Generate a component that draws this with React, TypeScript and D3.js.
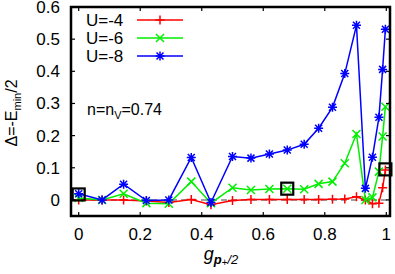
import React from "react";
import * as d3 from "d3";

const gValues = [0, 0.076, 0.146, 0.22, 0.293, 0.366, 0.43, 0.5, 0.56, 0.62, 0.678, 0.733, 0.78, 0.825, 0.865, 0.903, 0.932, 0.955, 0.976, 0.988, 0.997];
const deltaU4 = [0, 0, 0, -0.003, -0.008, 0.001, -0.015, -0.002, 0.001, 0.001, 0.001, 0.001, 0.001, 0.002, 0.003, 0.01, 0, -0.012, -0.01, 0.038, 0.093];
const deltaU6 = [0.006, 0, 0.019, -0.01, -0.012, 0.057, -0.01, 0.038, 0.031, 0.034, 0.035, 0.033, 0.05, 0.057, 0.114, 0.205, 0, 0.008, 0.088, 0.197, 0.29];
const deltaU8 = [0.019, 0, 0.049, -0.002, 0, 0.132, -0.008, 0.135, 0.13, 0.143, 0.155, 0.173, 0.223, 0.288, 0.393, 0.543, 0.036, 0.133, 0.257, 0.406, 0.531];
const seriesLabels = ["U=-4", "U=-6", "U=-8"];
const squareX = [0, 0.678, 0.997];
const squareY = [0.017, 0.035, 0.095];
const xTicks = [0, 0.2, 0.4, 0.6, 0.8, 1];
const xTickLabels = ["0", "0.2", "0.4", "0.6", "0.8", "1"];
const yTicks = [0, 0.1, 0.2, 0.3, 0.4, 0.5, 0.6];
const yTickLabels = ["0", "0.1", "0.2", "0.3", "0.4", "0.5", "0.6"];

const W = 395, H = 274;
const L = 71, R = 390, T = 7, B = 216;
const FONT = "'Liberation Sans', Arial, Helvetica, sans-serif";

const markerPaths: Record<string, string> = {
  plus: "M-4.5,0H4.5M0,-4.5V4.5",
  cross: "M-4,-4L4,4M-4,4L4,-4",
  star: "M-4.5,0H4.5M0,-4.5V4.5M-3.5,-3.5L3.5,3.5M-3.5,3.5L3.5,-3.5",
};

export default function App() {
  const x = d3.scaleLinear().domain([-0.025, 1.012]).range([L, R]);
  const y = d3.scaleLinear().domain([-0.05, 0.6]).range([B, T]);
  const series = [
    { label: seriesLabels[0], values: deltaU4, color: "#ff0000", marker: "plus" },
    { label: seriesLabels[1], values: deltaU6, color: "#00ee00", marker: "cross" },
    { label: seriesLabels[2], values: deltaU8, color: "#0000ff", marker: "star" },
  ];
  const line = d3.line<[number, number]>().x((d) => x(d[0])).y((d) => y(d[1]));

  return (
    <svg width={W} height={H} style={{ position: "absolute", left: 0, top: 0, background: "#fff" }} fontFamily={FONT}>
      <line x1={L} x2={R} y1={y(0)} y2={y(0)} stroke="#a0a0a0" strokeWidth={2} strokeDasharray="6,4" />
      {series.map((s, i) => {
        const pts: [number, number][] = gValues.map((g, j) => [g, s.values[j]]);
        return (
          <g key={i}>
            <path d={line(pts) || ""} fill="none" stroke={s.color} strokeWidth={1.5} />
            {pts.map((p, j) => (
              <path key={j} d={markerPaths[s.marker]} transform={`translate(${x(p[0])},${y(p[1])})`} stroke={s.color} strokeWidth={1.5} fill="none" />
            ))}
          </g>
        );
      })}
      {squareX.map((sx, i) => (
        <rect key={i} x={x(sx) - 6} y={y(squareY[i]) - 6} width={12} height={12} fill="none" stroke="#000" strokeWidth={2.2} />
      ))}
      <rect x={L} y={T} width={R - L} height={B - T} fill="none" stroke="#000" strokeWidth={2.5} />
      {xTicks.map((t, i) => (
        <g key={"xt" + i}>
          <line x1={x(t)} x2={x(t)} y1={B} y2={B - 4} stroke="#000" strokeWidth={1.2} />
          <line x1={x(t)} x2={x(t)} y1={T} y2={T + 4} stroke="#000" strokeWidth={1.2} />
          <text x={x(t)} y={240} fontSize={17} textAnchor="middle">{xTickLabels[i]}</text>
        </g>
      ))}
      {yTicks.map((t, i) => (
        <g key={"yt" + i}>
          <line x1={L} x2={L + 4} y1={y(t)} y2={y(t)} stroke="#000" strokeWidth={1.2} />
          <line x1={R} x2={R - 4} y1={y(t)} y2={y(t)} stroke="#000" strokeWidth={1.2} />
          <text x={60} y={y(t) + 6} fontSize={17} textAnchor="end">{yTickLabels[i]}</text>
        </g>
      ))}
      {series.map((s, i) => (
        <g key={"lg" + i}>
          <text x={86} y={26 + i * 18} fontSize={17}>{s.label}</text>
          <line x1={137} x2={183} y1={20 + i * 18} y2={20 + i * 18} stroke={s.color} strokeWidth={1.5} />
          <path d={markerPaths[s.marker]} transform={`translate(160,${20 + i * 18})`} stroke={s.color} strokeWidth={1.5} fill="none" />
        </g>
      ))}
      <text x={87} y={115} fontSize={16}>
        n=n<tspan fontSize={11} dy={4}>V</tspan><tspan dy={-4}>=0.74</tspan>
      </text>
      <text transform="translate(17,113) rotate(-90)" fontSize={16} textAnchor="middle">
        Δ=-E<tspan fontSize={11} dy={4}>min</tspan><tspan dy={-4}>/2</tspan>
      </text>
      <text x={221} y={260} fontSize={18} textAnchor="middle" fontStyle="italic">
        g<tspan fontSize={13} fontWeight="bold" dy={4}>p</tspan><tspan fontSize={10} dy={2} fontStyle="normal">+</tspan><tspan fontSize={13} dy={-2}>/2</tspan>
      </text>
    </svg>
  );
}
